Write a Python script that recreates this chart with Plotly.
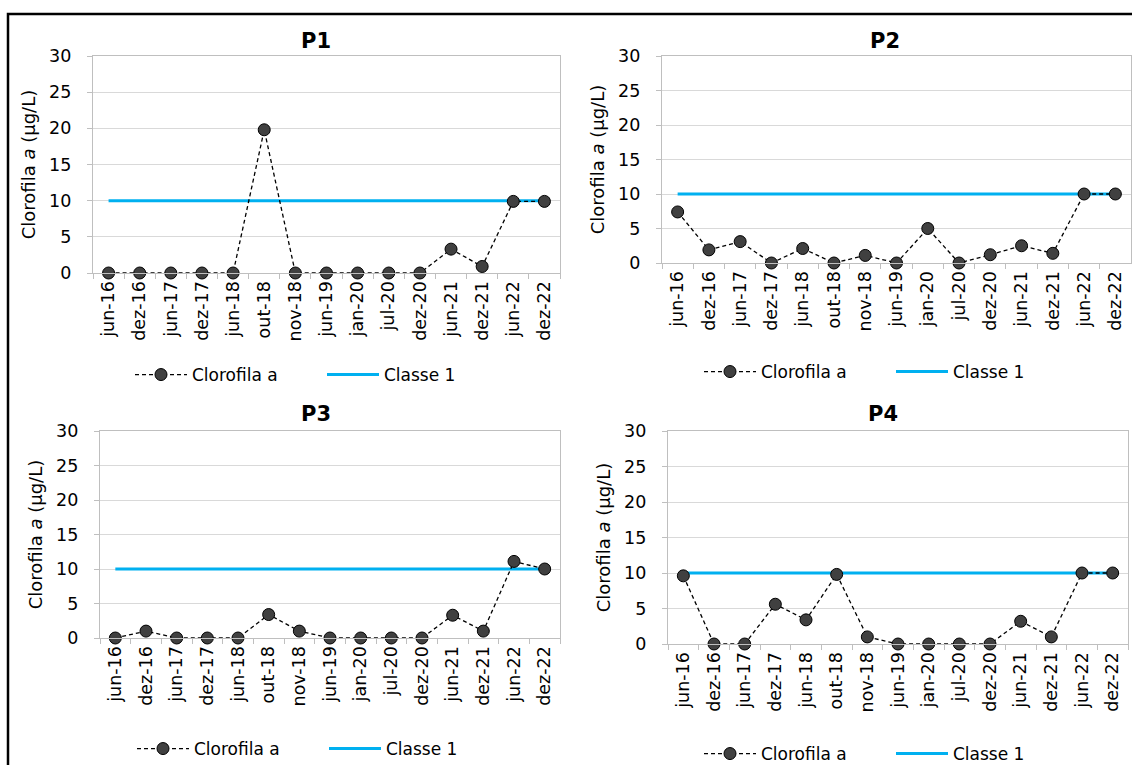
import plotly.graph_objects as go

categories = ["jun-16", "dez-16", "jun-17", "dez-17", "jun-18", "out-18", "nov-18",
              "jun-19", "jan-20", "jul-20", "dez-20", "jun-21", "dez-21", "jun-22", "dez-22"]

p1_values = [0, 0, 0, 0, 0, 19.8, 0, 0, 0, 0, 0, 3.3, 0.9, 9.9, 9.9]
p2_values = [7.4, 1.9, 3.1, 0, 2.1, 0, 1.1, 0, 5.0, 0, 1.2, 2.5, 1.4, 10.0, 10.0]
p3_values = [0, 1.0, 0, 0, 0, 3.4, 1.0, 0, 0, 0, 0, 3.3, 1.0, 11.1, 10.0]
p4_values = [9.6, 0, 0, 5.6, 3.4, 9.8, 1.0, 0, 0, 0, 0, 3.2, 1.0, 10.0, 10.0]

classe1_value = 10
panel_titles = ["P1", "P2", "P3", "P4"]
series_name = "Clorofila a"
limit_name = "Classe 1"
y_title = "Clorofila <i>a</i> (µg/L)"

W, H = 1132, 765
FONT = "DejaVu Sans"

# plot-area boxes in pixels: left, right, top, bottom
boxes = [
    (93, 560, 56, 273),
    (662, 1131, 56, 263),
    (100, 560, 431, 638),
    (668, 1128, 431, 644),
]
title_pos = [(316, 41), (885, 41), (316, 414), (883, 414)]
legend_pos = [(130, 375), (699, 372), (132, 749), (699, 754)]

all_values = [p1_values, p2_values, p3_values, p4_values]

fig = go.Figure()

for i, (vals, box) in enumerate(zip(all_values, boxes)):
    n = "" if i == 0 else str(i + 1)
    xa, ya = "x" + n, "y" + n
    leg = "legend" + n
    fig.add_trace(go.Scatter(
        x=categories, y=[classe1_value] * len(categories), mode="lines", name=limit_name,
        line=dict(color="#00B0F0", width=3),
        xaxis=xa, yaxis=ya, legend=leg, cliponaxis=False,
    ))
    fig.add_trace(go.Scatter(
        x=categories, y=vals, mode="lines+markers", name=series_name,
        line=dict(color="#000000", width=1.3, dash="4px,3px"),
        marker=dict(size=12, color="#404040", line=dict(color="#000000", width=1)),
        xaxis=xa, yaxis=ya, legend=leg, cliponaxis=False,
    ))

    l, r, t, b = box
    axis_common = dict(
        showline=True, linecolor="#BFBFBF", linewidth=1.3, mirror=True,
        ticks="outside", ticklen=5, tickcolor="#BFBFBF", tickwidth=1.3,
        tickfont=dict(family=FONT, size=17.5, color="#000000"),
        automargin=False,
    )
    fig.update_layout({
        "xaxis" + n: dict(
            domain=[l / W, r / W], anchor=ya, type="category",
            range=[-0.5, len(categories) - 0.5],
            tickangle=-90, tickson="boundaries", showgrid=False,
            **axis_common,
        ),
        "yaxis" + n: dict(
            domain=[1 - b / H, 1 - t / H], anchor=xa, range=[0, 30], dtick=5,
            showgrid=True, gridcolor="#D9D9D9", gridwidth=1.3, zeroline=False,
            ticklabelstandoff=12,
            title=dict(text=y_title, font=dict(family=FONT, size=18, color="#000000"), standoff=8),
            **axis_common,
        ),
        leg: dict(
            orientation="h", x=legend_pos[i][0] / W, y=1 - legend_pos[i][1] / H,
            xanchor="left", yanchor="middle", bgcolor="rgba(0,0,0,0)",
            font=dict(family=FONT, size=17, color="#000000"),
            entrywidth=125, itemwidth=52, traceorder="reversed",
        ),
    })
    tx, ty = title_pos[i]
    fig.add_annotation(
        x=tx / W, y=1 - ty / H, xref="paper", yref="paper", text="<b>%s</b>" % panel_titles[i],
        showarrow=False, font=dict(family=FONT, size=21, color="#000000"),
        xanchor="center", yanchor="middle",
    )

# outer frame of the figure
fig.add_shape(type="rect", xref="paper", yref="paper",
              x0=8 / W, x1=1.05, y0=-0.05, y1=1 - 14 / H,
              line=dict(color="#000000", width=2.5), fillcolor="rgba(0,0,0,0)", layer="above")

fig.update_layout(
    width=W, height=H, margin=dict(l=0, r=0, t=0, b=0, autoexpand=False),
    paper_bgcolor="#FFFFFF", plot_bgcolor="#FFFFFF",
    font=dict(family=FONT, size=17, color="#000000"),
)

fig.write_html("out.html",
               post_script="document.body.style.margin='0';document.body.style.overflow='hidden';")
